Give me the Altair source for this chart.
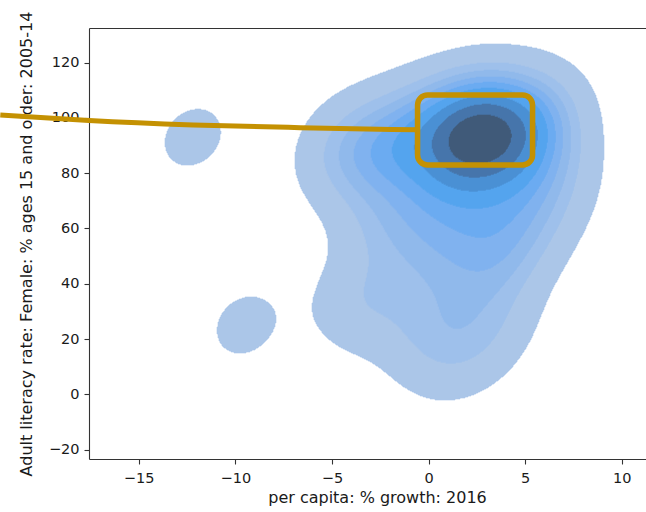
import numpy as np
import pandas as pd
import altair as alt

growth = [2.0, 2.5, 3.0, 1.5, 2.2, 2.8, 3.5, 4.0, 2.4, 1.8, 3.2, 2.6, 3.8, 1.2, 4.5, 2.0, 3.0, 0.0, -0.5, 5.0, 1.6,
          2.3, 1.0, 3.4,
          -2.0, -3.0, -1.5, -4.0, -1.0, 5.2, 5.6, 5.0, 6.0, -2.5, 4.2, 0.5, 5.4, -4.3,
          0.0, 1.5, 3.0, -2.5, 5.2, 2.0, -0.5, 3.5, 6.0, -1.8, 4.5, 1.0,
          1.0, 3.2, -3.5, 3.2, -0.2, -3.0, 0.0, 1.2, 2.6, 3.5,
          -12.2, -9.5]
literacy = [95, 97, 93, 92, 99, 90, 96, 94, 88, 100, 98, 92, 91, 86, 97, 96, 89, 99, 93, 99, 94,
            95, 97, 92,
            92, 90, 86, 90, 95, 96, 90, 85, 80, 82, 80, 82, 99, 88,
            70, 74, 72, 68, 64, 63, 58, 60, 72, 60, 55, 55,
            47, 43, 36, 30, 30, 33, 22, 14, 20, 50,
            93, 25]

band_colors = ["#abc6ea", "#a0c1ec", "#92baed", "#82b2ef", "#6dacf1",
               "#55a4ee", "#4b90d5", "#4677ab", "#415a7b"]

x_domain = [-17.57, 11.25]
y_domain = [-23.42, 132.56]
x_ticks = [-15, -10, -5, 0, 5, 10]
y_ticks = [-20, 0, 20, 40, 60, 80, 100, 120]

box_x = [-0.57]
box_x2 = [5.38]
box_y = [83.0]
box_y2 = [108.3]
curve_x = [-22.16, -17.57, -12.17, -6.64, -0.6]
curve_y = [101.1, 99.1, 97.5, 96.5, 95.7]

gold = "#c49102"
W, H = 557, 431

# ---- bivariate gaussian KDE (Scott's rule), iso-proportion levels ----
pts = np.array([growth, literacy], float)
n = pts.shape[1]
factor = n ** (-1.0 / 6.0)
cov = np.cov(pts) * factor ** 2
inv = np.linalg.inv(cov)
norm = 1.0 / (2 * np.pi * np.sqrt(np.linalg.det(cov)) * n)


def density(gx, gy):
    dx = gx[:, None] - pts[0][None, :]
    dy = gy[:, None] - pts[1][None, :]
    q = inv[0, 0] * dx * dx + 2 * inv[0, 1] * dx * dy + inv[1, 1] * dy * dy
    return norm * np.exp(-0.5 * q).sum(axis=1)


bw = np.sqrt(np.diag(cov))
sx = np.linspace(pts[0].min() - 3 * bw[0], pts[0].max() + 3 * bw[0], 200)
sy = np.linspace(pts[1].min() - 3 * bw[1], pts[1].max() + 3 * bw[1], 200)
SX, SY = np.meshgrid(sx, sy)
sd = density(SX.ravel(), SY.ravel())
iso = np.linspace(0.05, 1, 10)
sv = np.sort(sd)[::-1]
cum = np.cumsum(sv) / sv.sum()
levels = np.take(sv, np.searchsorted(cum, 1 - iso), mode="clip")

xe = np.linspace(x_domain[0], x_domain[1], W + 1)
ye = np.linspace(y_domain[1], y_domain[0], H + 1)
xc = 0.5 * (xe[:-1] + xe[1:])
rows = []
for j in range(H):
    yc = 0.5 * (ye[j] + ye[j + 1])
    d = density(xc, np.full_like(xc, yc))
    band = np.clip(np.searchsorted(levels, d, side="right") - 1, -1, 8)
    start = 0
    for i in range(1, W + 1):
        if i == W or band[i] != band[start]:
            if band[start] >= 0:
                rows.append({"x": xe[start], "x2": xe[i], "y": ye[j], "y2": ye[j + 1],
                             "band": int(band[start])})
            start = i
df = pd.DataFrame(rows)

xscale = alt.Scale(domain=x_domain, nice=False, zero=False)
yscale = alt.Scale(domain=y_domain, nice=False, zero=False)
cscale = alt.Scale(domain=list(range(9)), range=band_colors)

dens = alt.Chart(df).mark_rect(strokeWidth=0.6).encode(
    x=alt.X("x:Q", scale=xscale,
            axis=alt.Axis(values=x_ticks, title="per capita: % growth: 2016",
                          titleX=288, titleY=38, titleAlign="center", titleBaseline="middle",
                          labelPadding=7)),
    x2="x2:Q",
    y=alt.Y("y:Q", scale=yscale,
            axis=alt.Axis(values=y_ticks,
                          title="Adult literacy rate: Female: % ages 15 and older: 2005-14",
                          titleX=-63, titleY=H / 2, titleAngle=270, titleBaseline="middle",
                          titleAlign="center", labelPadding=5)),
    y2="y2:Q",
    color=alt.Color("band:O", scale=cscale, legend=None),
    stroke=alt.Stroke("band:O", scale=cscale, legend=None),
)

box_df = pd.DataFrame({"x": box_x, "x2": box_x2, "y": box_y, "y2": box_y2})
box = alt.Chart(box_df).mark_rect(fillOpacity=0, stroke=gold, strokeWidth=5.5, cornerRadius=10).encode(
    x=alt.X("x:Q", scale=xscale,
            axis=alt.Axis(orient="top", labels=False, ticks=False, title="", domain=True)),
    x2="x2:Q", y=alt.Y("y:Q", scale=yscale), y2="y2:Q")

curve_df = pd.DataFrame({"x": curve_x, "y": curve_y, "i": list(range(len(curve_x)))})
curve = alt.Chart(curve_df).mark_line(color=gold, strokeWidth=5, interpolate="monotone", clip=False).encode(
    x=alt.X("x:Q", scale=xscale, axis=None), y=alt.Y("y:Q", scale=yscale), order="i:O")

chart = alt.layer(dens, box, curve).resolve_axis(x="independent").properties(
    width=W, height=H,
    padding={"left": 89, "top": 28, "right": 0, "bottom": 50},
    autosize=alt.AutoSizeParams(type="none"),
).configure_view(stroke=None).configure_axis(
    labelFont="DejaVu Sans", titleFont="DejaVu Sans", labelFontSize=14.5, titleFontSize=16,
    labelColor="#1a1a1a", titleColor="#1a1a1a", titleFontWeight="normal",
    tickColor="#333333", domainColor="#333333", tickSize=5, tickWidth=1.1, domainWidth=1.1,
    grid=False,
)

chart.save("out.html", embed_options={"renderer": "svg", "actions": False})
